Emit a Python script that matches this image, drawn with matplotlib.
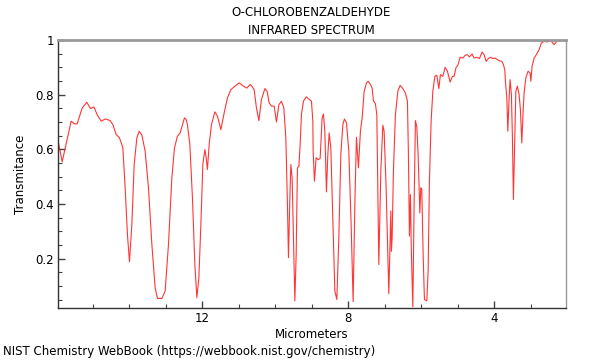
import matplotlib
matplotlib.use("Agg")
import matplotlib.pyplot as plt
from matplotlib.ticker import MultipleLocator, FixedLocator

wavelength_um = [
    15.953, 15.836, 15.589, 15.499, 15.425, 15.288, 15.159, 15.060, 14.967, 14.877,
    14.767, 14.649, 14.521, 14.447, 14.356, 14.266, 14.200, 14.173, 14.110, 14.047,
    13.992, 13.926, 13.863, 13.789, 13.726, 13.652, 13.562, 13.471, 13.378, 13.288,
    13.225, 13.104, 13.014, 12.923, 12.830, 12.759, 12.677, 12.603, 12.540, 12.485,
    12.438, 12.403, 12.337, 12.266, 12.200, 12.145, 12.090, 12.035, 11.981, 11.926,
    11.890, 11.855, 11.808, 11.745, 11.652, 11.581, 11.487, 11.397, 11.307, 11.214,
    11.104, 10.986, 10.868, 10.775, 10.685, 10.649, 10.575, 10.512, 10.446, 10.375,
    10.282, 10.219, 10.164, 10.101, 10.027, 9.964, 9.898, 9.827, 9.761, 9.707,
    9.663, 9.635, 9.597, 9.570, 9.534, 9.498, 9.460, 9.424, 9.389, 9.350,
    9.315, 9.279, 9.224, 9.150, 9.077, 9.005, 8.967, 8.959, 8.923, 8.877,
    8.822, 8.767, 8.712, 8.677, 8.638, 8.594, 8.556, 8.520, 8.474, 8.419,
    8.364, 8.309, 8.255, 8.200, 8.145, 8.101, 8.046, 7.981, 7.918, 7.863,
    7.816, 7.772, 7.718, 7.663, 7.616, 7.561, 7.498, 7.452, 7.389, 7.342,
    7.307, 7.252, 7.214, 7.186, 7.159, 7.104, 7.049, 7.014, 6.959, 6.912,
    6.885, 6.849, 6.830, 6.814, 6.794, 6.759, 6.704, 6.638, 6.575, 6.501,
    6.430, 6.375, 6.348, 6.320, 6.293, 6.266, 6.227, 6.192, 6.156, 6.118,
    6.082, 6.035, 6.008, 5.981, 5.945, 5.909, 5.844, 5.808, 5.772, 5.726,
    5.679, 5.624, 5.570, 5.515, 5.471, 5.405, 5.342, 5.279, 5.205, 5.142,
    5.096, 5.041, 4.994, 4.931, 4.857, 4.794, 4.731, 4.677, 4.603, 4.548,
    4.474, 4.403, 4.329, 4.274, 4.219, 4.156, 4.090, 4.036, 3.973, 3.910,
    3.855, 3.789, 3.745, 3.707, 3.690, 3.652, 3.624, 3.589, 3.562, 3.526,
    3.498, 3.471, 3.433, 3.405, 3.361, 3.315, 3.279, 3.241, 3.205, 3.178,
    3.131, 3.068, 3.014, 2.994, 2.959, 2.904, 2.830, 2.767, 2.704, 2.630,
    2.540, 2.446, 2.356, 2.282, 2.172, 2.082, 2.035,
]

transmittance = [
    0.635, 0.554, 0.703, 0.693, 0.693, 0.751, 0.772, 0.749, 0.755, 0.727,
    0.703, 0.711, 0.705, 0.690, 0.654, 0.642, 0.617, 0.605, 0.459, 0.288,
    0.188, 0.325, 0.544, 0.642, 0.666, 0.652, 0.593, 0.459, 0.252, 0.093,
    0.054, 0.054, 0.081, 0.252, 0.495, 0.605, 0.648, 0.660, 0.690, 0.715,
    0.709, 0.690, 0.617, 0.422, 0.178, 0.057, 0.130, 0.325, 0.544, 0.599,
    0.569, 0.526, 0.617, 0.690, 0.737, 0.721, 0.672, 0.733, 0.788, 0.818,
    0.831, 0.843, 0.831, 0.824, 0.837, 0.833, 0.818, 0.751, 0.705, 0.782,
    0.822, 0.812, 0.770, 0.758, 0.758, 0.700, 0.763, 0.776, 0.751, 0.642,
    0.398, 0.203, 0.422, 0.544, 0.495, 0.276, 0.045, 0.215, 0.532, 0.538,
    0.617, 0.727, 0.776, 0.792, 0.784, 0.776, 0.703, 0.593, 0.483, 0.569,
    0.562, 0.566, 0.715, 0.729, 0.666, 0.444, 0.581, 0.660, 0.605, 0.337,
    0.081, 0.050, 0.276, 0.581, 0.690, 0.711, 0.697, 0.593, 0.325, 0.042,
    0.398, 0.644, 0.532, 0.666, 0.715, 0.812, 0.843, 0.849, 0.837, 0.824,
    0.778, 0.766, 0.727, 0.450, 0.178, 0.520, 0.688, 0.666, 0.459, 0.215,
    0.071, 0.276, 0.374, 0.227, 0.276, 0.520, 0.727, 0.812, 0.834, 0.822,
    0.806, 0.776, 0.581, 0.282, 0.434, 0.215, 0.023, 0.398, 0.705, 0.681,
    0.581, 0.367, 0.459, 0.453, 0.215, 0.050, 0.045, 0.154, 0.483, 0.703,
    0.812, 0.867, 0.871, 0.822, 0.873, 0.867, 0.900, 0.886, 0.846, 0.867,
    0.867, 0.900, 0.907, 0.937, 0.934, 0.944, 0.946, 0.938, 0.949, 0.934,
    0.937, 0.932, 0.956, 0.946, 0.922, 0.932, 0.937, 0.932, 0.934, 0.928,
    0.924, 0.922, 0.910, 0.891, 0.849, 0.788, 0.666, 0.788, 0.855, 0.800,
    0.642, 0.416, 0.642, 0.812, 0.831, 0.800, 0.745, 0.623, 0.739, 0.806,
    0.861, 0.886, 0.879, 0.849, 0.904, 0.934, 0.949, 0.965, 0.989, 0.995,
    0.993, 0.998, 0.983, 0.995, 0.998, 0.999, 0.995,
]

x_major_ticks = [12, 8, 4]
x_major_labels = ["12", "8", "4"]
y_major_ticks = [0.2, 0.4, 0.6, 0.8, 1.0]
y_major_labels = ["0.2", "0.4", "0.6", "0.8", "1"]

title_text = "O-CHLOROBENZALDEHYDE\nINFRARED SPECTRUM"
x_label = "Micrometers"
y_label = "Transmitance"
footer = "NIST Chemistry WebBook (https://webbook.nist.gov/chemistry)"

plt.rcParams['font.family'] = ['DejaVu Sans']

fig = plt.figure(figsize=(6, 3.6), dpi=100)
ax = fig.add_axes([58/600, 1 - 308/360, (566 - 58)/600, (308 - 40)/360])

ax.plot(wavelength_um, transmittance, color="#ff2020", lw=0.8, alpha=0.9, clip_on=True)

ax.set_xlim(15.95, 2.03)
ax.set_ylim(0.019, 1.0)

ax.xaxis.set_major_locator(FixedLocator(x_major_ticks))
ax.set_xticklabels(x_major_labels)
ax.xaxis.set_minor_locator(MultipleLocator(1))
ax.yaxis.set_major_locator(FixedLocator(y_major_ticks))
ax.set_yticklabels(y_major_labels)
ax.yaxis.set_minor_locator(MultipleLocator(0.05))

ax.tick_params(axis='both', which='major', direction='in', length=5, width=1,
               color="#444444", labelsize=8.5, pad=3)
ax.tick_params(axis='both', which='minor', direction='in', length=3, width=0.8,
               color="#444444")

for s in ['left', 'bottom']:
    ax.spines[s].set_color("#333333")
    ax.spines[s].set_linewidth(1.0)
for s in ['top', 'right']:
    ax.spines[s].set_color("#999999")
    ax.spines[s].set_linewidth(1.0)
ax.spines['top'].set_linewidth(2.0)

ax.set_xlabel(x_label, fontsize=8.5, labelpad=2)
ax.set_ylabel(y_label, fontsize=8.5, labelpad=6)

fig.text(0.519, 0.982, title_text, ha='center', va='top', fontsize=8.5, linespacing=1.45)
fig.text(0.005, 0.005, footer, ha='left', va='bottom', fontsize=8.5)

fig.savefig("out.png", dpi=100)
